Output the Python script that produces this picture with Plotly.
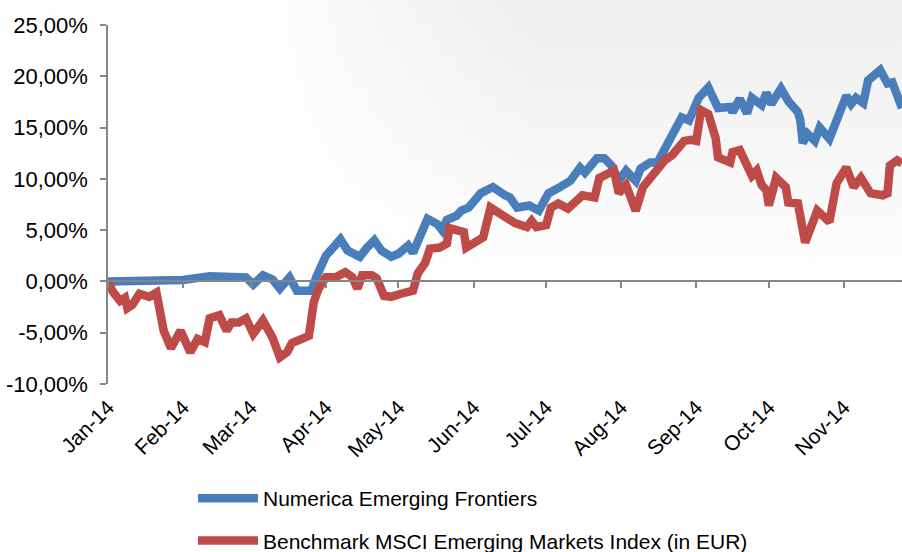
import plotly.graph_objects as go

# ---------------- data ----------------
fund_dates = ["2014-01-01","2014-01-24","2014-02-01","2014-02-12","2014-02-27","2014-03-02","2014-03-06",
    "2014-03-10","2014-03-13","2014-03-17","2014-03-20","2014-03-24","2014-03-26","2014-03-28","2014-04-01",
    "2014-04-04","2014-04-07","2014-04-10","2014-04-15","2014-04-18","2014-04-21","2014-04-24","2014-04-28",
    "2014-05-01","2014-05-05","2014-05-07","2014-05-10","2014-05-13","2014-05-17","2014-05-19","2014-05-21",
    "2014-05-25","2014-05-27","2014-05-30","2014-06-04","2014-06-09","2014-06-14","2014-06-16","2014-06-19",
    "2014-06-24","2014-06-28","2014-07-02","2014-07-06","2014-07-11","2014-07-15","2014-07-17","2014-07-22",
    "2014-07-25","2014-07-28","2014-07-31","2014-08-03","2014-08-07","2014-08-09","2014-08-13","2014-08-16",
    "2014-08-19","2014-08-22","2014-08-26","2014-08-29","2014-08-31","2014-09-02","2014-09-06","2014-09-10",
    "2014-09-15","2014-09-16","2014-09-19","2014-09-22","2014-09-24","2014-09-28","2014-09-30","2014-10-02",
    "2014-10-06","2014-10-09","2014-10-13","2014-10-14","2014-10-15","2014-10-17","2014-10-20","2014-10-22",
    "2014-10-26","2014-10-29","2014-11-02","2014-11-04","2014-11-06","2014-11-09","2014-11-11","2014-11-16",
    "2014-11-19","2014-11-21","2014-11-25"]
fund_values = [0.0, 0.0, 0.15, 0.5, 0.4, -0.3, 0.6,
    0.2, -0.7, 0.4, -0.9, -0.9, -0.9, 0.4, 2.5,
    3.3, 4.1, 3.0, 2.4, 3.3, 4.0, 3.0, 2.4,
    2.7, 3.5, 2.8, 4.3, 6.1, 5.6, 5.0, 6.0,
    6.4, 6.9, 7.2, 8.6, 9.2, 8.4, 8.2, 7.2,
    7.4, 6.9, 8.6, 9.1, 9.8, 11.1, 10.6, 12.0,
    12.0, 11.3, 9.8, 10.8, 9.8, 11.0, 11.6, 11.6,
    12.8, 14.4, 16.0, 15.7, 16.7, 17.9, 18.9, 16.9,
    17.0, 16.5, 17.8, 16.4, 17.9, 17.2, 18.4, 17.3,
    18.8, 17.6, 16.5, 15.7, 13.5, 14.4, 13.7, 15.0,
    13.9, 15.7, 18.1, 17.3, 17.9, 17.4, 19.6, 20.6,
    19.3, 19.4, 16.9]

bench_dates = ["2014-01-01","2014-01-03","2014-01-06","2014-01-08","2014-01-09","2014-01-11","2014-01-14",
    "2014-01-18","2014-01-21","2014-01-24","2014-01-27","2014-01-31","2014-02-04","2014-02-07","2014-02-10",
    "2014-02-12","2014-02-16","2014-02-19","2014-02-21","2014-02-24","2014-02-27","2014-03-02","2014-03-06",
    "2014-03-10","2014-03-13","2014-03-16","2014-03-18","2014-03-22","2014-03-25","2014-03-27","2014-03-29",
    "2014-04-01","2014-04-05","2014-04-09","2014-04-12","2014-04-14","2014-04-16","2014-04-20","2014-04-22",
    "2014-04-25","2014-04-28","2014-05-02","2014-05-07","2014-05-09","2014-05-12","2014-05-14","2014-05-18",
    "2014-05-21","2014-05-22","2014-05-25","2014-05-28","2014-05-29","2014-06-02","2014-06-05","2014-06-08",
    "2014-06-11","2014-06-14","2014-06-18","2014-06-23","2014-06-25","2014-06-27","2014-07-01","2014-07-03",
    "2014-07-06","2014-07-10","2014-07-13","2014-07-16","2014-07-21","2014-07-23","2014-07-29","2014-07-31",
    "2014-08-03","2014-08-07","2014-08-10","2014-08-13","2014-08-17","2014-08-19","2014-08-22","2014-08-25",
    "2014-08-27","2014-08-30","2014-09-01","2014-09-03","2014-09-06","2014-09-09","2014-09-10","2014-09-15",
    "2014-09-16","2014-09-19","2014-09-22","2014-09-24","2014-09-26","2014-09-28","2014-09-30","2014-10-01",
    "2014-10-04","2014-10-08","2014-10-09","2014-10-13","2014-10-16","2014-10-18","2014-10-21","2014-10-26",
    "2014-10-29","2014-11-02","2014-11-05","2014-11-08","2014-11-12","2014-11-17","2014-11-19","2014-11-20",
    "2014-11-23","2014-11-25"]
bench_values = [0.0, -1.0, -1.9, -1.6, -2.6, -2.3, -1.2,
    -1.5, -1.1, -4.8, -6.5, -4.8, -6.9, -5.6, -5.9,
    -3.6, -3.3, -4.8, -4.0, -4.0, -3.6, -5.1, -3.8,
    -5.5, -7.4, -6.9, -6.0, -5.7, -5.3, -2.0, -0.7,
    0.4, 0.4, 0.9, 0.4, -0.7, 0.6, 0.6, 0.3,
    -1.4, -1.5, -1.2, -0.9, 0.8, 1.8, 3.2, 3.3,
    3.7, 5.2, 5.0, 4.8, 3.3, 4.0, 4.3, 7.2,
    6.7, 6.2, 5.7, 5.3, 5.9, 5.3, 5.5, 7.2,
    7.6, 7.1, 7.7, 8.4, 8.2, 10.1, 10.8, 8.6,
    9.4, 6.9, 9.2, 10.1, 11.1, 11.8, 12.3, 13.1,
    13.7, 13.8, 13.7, 16.7, 16.3, 14.0, 12.1, 11.6,
    12.6, 12.8, 11.1, 10.3, 10.8, 9.4, 8.9, 7.4,
    10.1, 9.2, 7.7, 7.6, 3.8, 5.2, 6.9, 5.8,
    9.6, 11.1, 9.2, 10.1, 8.6, 8.4, 8.6, 11.3,
    11.8, 11.5]

series_names = ["Numerica Emerging Frontiers", "Benchmark MSCI Emerging Markets Index (in EUR)"]

month_ticks = ["2014-01-01","2014-02-01","2014-03-01","2014-04-01","2014-05-01","2014-06-01",
               "2014-07-01","2014-08-01","2014-09-01","2014-10-01","2014-11-01"]
month_labels = ["Jan-14","Feb-14","Mar-14","Apr-14","May-14","Jun-14",
                "Jul-14","Aug-14","Sep-14","Oct-14","Nov-14"]
y_ticks = [-10, -5, 0, 5, 10, 15, 20, 25]
y_labels = ["-10,00%", "-5,00%", "0,00%", "5,00%", "10,00%", "15,00%", "20,00%", "25,00%"]

x_range = ["2014-01-01", "2014-11-25"]
y_range = [-10, 25]

# ---------------- styling ----------------
FONT = "Liberation Sans, Arial, sans-serif"
AXIS_COLOR = "#868686"
BLUE = "#4A7EBB"
RED = "#BE4B48"

fig = go.Figure()
fig.add_trace(go.Scatter(x=fund_dates, y=fund_values, mode="lines", name=series_names[0],
                         line=dict(color=BLUE, width=8.5), legendgroup="a"))
fig.add_trace(go.Scatter(x=bench_dates, y=bench_values, mode="lines", name=series_names[1],
                         line=dict(color=RED, width=8.5), legendgroup="b"))
# helper trace so the zero-crossing category axis is drawn
fig.add_trace(go.Scatter(x=[x_range[0]], y=[0], xaxis="x2", mode="lines",
                         showlegend=False, hoverinfo="skip", line=dict(width=0)))

bg_svg = ("data:image/svg+xml;utf8,"
          "<svg xmlns='http://www.w3.org/2000/svg' width='902' height='300'>"
          "<defs><linearGradient id='v' x1='0' y1='0' x2='0' y2='1'>"
          "<stop offset='0' stop-color='%23efeeef'/><stop offset='1' stop-color='%23ffffff'/></linearGradient>"
          "<linearGradient id='h' x1='0' y1='0' x2='1' y2='0'>"
          "<stop offset='0' stop-color='white' stop-opacity='1'/>"
          "<stop offset='0.3' stop-color='white' stop-opacity='0.9'/>"
          "<stop offset='0.6' stop-color='white' stop-opacity='0'/></linearGradient></defs>"
          "<rect width='902' height='300' fill='url(%23v)'/>"
          "<rect width='902' height='300' fill='url(%23h)'/></svg>")

fig.update_layout(
    width=902, height=552,
    margin=dict(l=108, r=0, t=25, b=168, autoexpand=False),
    paper_bgcolor="white", plot_bgcolor="rgba(0,0,0,0)",
    font=dict(family=FONT, size=21, color="black"),
    images=[dict(source=bg_svg, xref="paper", yref="paper", x=-108/794, y=384/359,
                 sizex=902/794, sizey=300/359, xanchor="left", yanchor="top",
                 sizing="stretch", layer="below")],
    xaxis=dict(type="date", range=x_range, tickvals=month_ticks, ticktext=month_labels,
               tickangle=-45, ticks="", showline=False, showgrid=False, zeroline=False,
               tickfont=dict(size=21), ticklabelstandoff=6),
    xaxis2=dict(type="date", range=x_range, overlaying="x", anchor="free", position=10/35,
                side="bottom", tickvals=month_ticks, showticklabels=False, ticks="outside",
                ticklen=6, tickwidth=1.5, tickcolor=AXIS_COLOR, showline=True,
                linecolor=AXIS_COLOR, linewidth=1.5, showgrid=False, zeroline=False),
    yaxis=dict(range=y_range, tickvals=y_ticks, ticktext=y_labels, ticks="outside",
               ticklen=6, tickwidth=1.5, tickcolor=AXIS_COLOR, showline=True,
               linecolor=AXIS_COLOR, linewidth=1.5, showgrid=False, zeroline=False,
               tickfont=dict(size=22), ticklabelstandoff=8),
    legend=dict(orientation="v", x=(193-108)/794, xanchor="left", y=(384-478)/359, yanchor="top",
                font=dict(size=21), itemwidth=60, tracegroupgap=12, bgcolor="rgba(0,0,0,0)"),
    showlegend=True,
)

fig.write_html("out.html", config={"displayModeBar": False},
               post_script="document.body.style.margin='0';")
